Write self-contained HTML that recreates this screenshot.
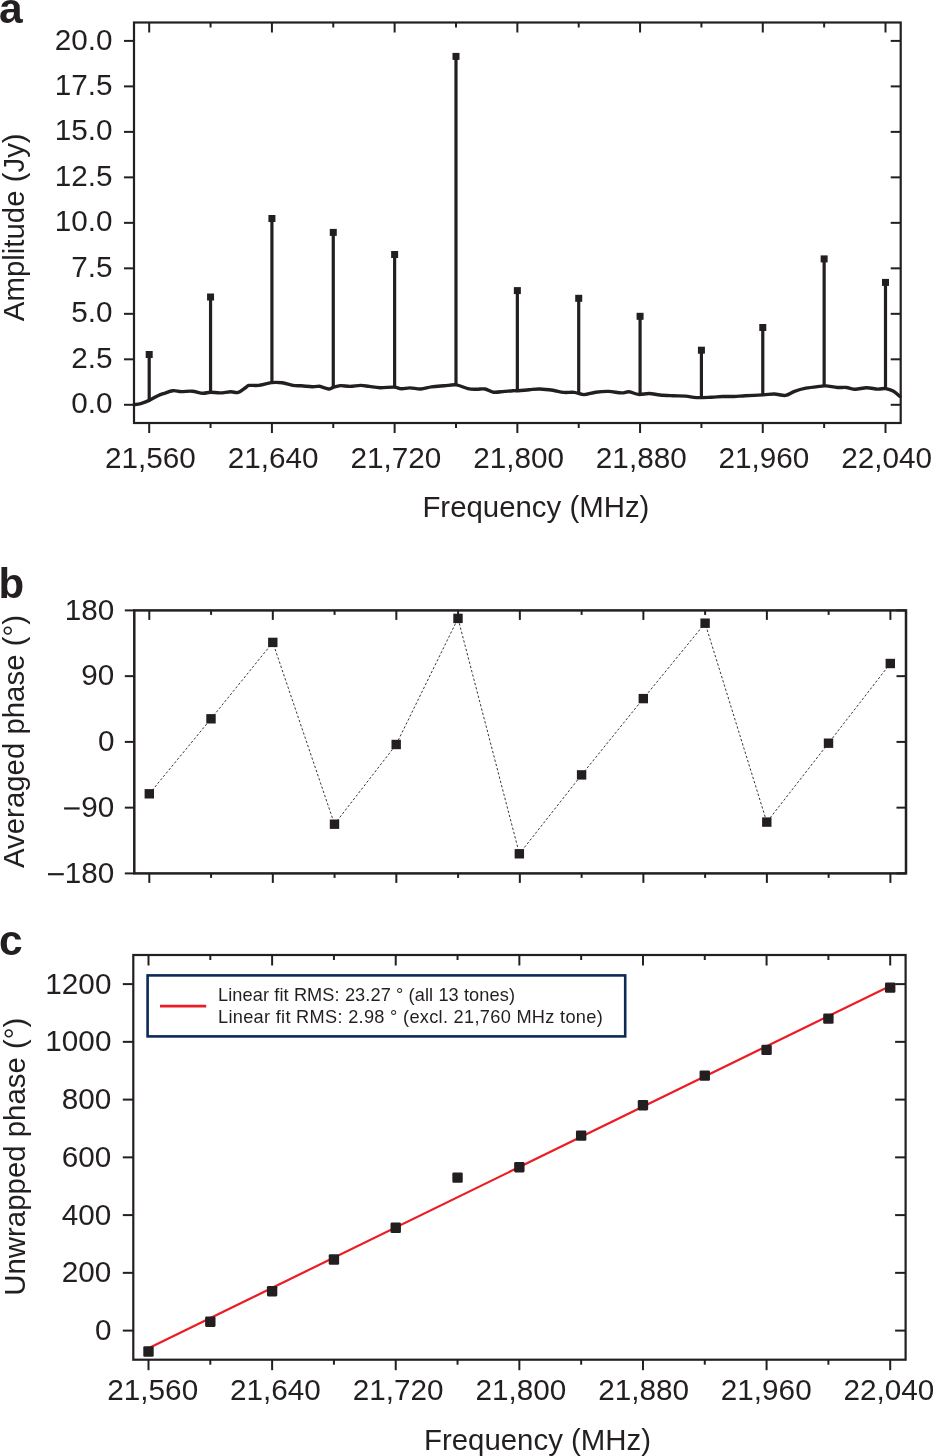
<!DOCTYPE html>
<html><head><meta charset="utf-8"><style>
html,body{margin:0;padding:0;background:#fff;}
svg{display:block;will-change:transform;}
text{font-family:"Liberation Sans",sans-serif;fill:#231f20;}
</style></head><body>
<svg width="933" height="1456" viewBox="0 0 933 1456">
<rect width="933" height="1456" fill="#fff"/>
<rect x="134.00" y="22.50" width="766.70" height="400.50" fill="none" stroke="#231f20" stroke-width="2.2"/>
<line x1="149.20" y1="22.50" x2="149.20" y2="32.50" stroke="#231f20" stroke-width="2" />
<line x1="149.20" y1="423.00" x2="149.20" y2="433.00" stroke="#231f20" stroke-width="2" />
<line x1="210.56" y1="22.50" x2="210.56" y2="27.50" stroke="#231f20" stroke-width="2" />
<line x1="210.56" y1="423.00" x2="210.56" y2="428.00" stroke="#231f20" stroke-width="2" />
<line x1="271.92" y1="22.50" x2="271.92" y2="32.50" stroke="#231f20" stroke-width="2" />
<line x1="271.92" y1="423.00" x2="271.92" y2="433.00" stroke="#231f20" stroke-width="2" />
<line x1="333.27" y1="22.50" x2="333.27" y2="27.50" stroke="#231f20" stroke-width="2" />
<line x1="333.27" y1="423.00" x2="333.27" y2="428.00" stroke="#231f20" stroke-width="2" />
<line x1="394.63" y1="22.50" x2="394.63" y2="32.50" stroke="#231f20" stroke-width="2" />
<line x1="394.63" y1="423.00" x2="394.63" y2="433.00" stroke="#231f20" stroke-width="2" />
<line x1="455.99" y1="22.50" x2="455.99" y2="27.50" stroke="#231f20" stroke-width="2" />
<line x1="455.99" y1="423.00" x2="455.99" y2="428.00" stroke="#231f20" stroke-width="2" />
<line x1="517.35" y1="22.50" x2="517.35" y2="32.50" stroke="#231f20" stroke-width="2" />
<line x1="517.35" y1="423.00" x2="517.35" y2="433.00" stroke="#231f20" stroke-width="2" />
<line x1="578.71" y1="22.50" x2="578.71" y2="27.50" stroke="#231f20" stroke-width="2" />
<line x1="578.71" y1="423.00" x2="578.71" y2="428.00" stroke="#231f20" stroke-width="2" />
<line x1="640.07" y1="22.50" x2="640.07" y2="32.50" stroke="#231f20" stroke-width="2" />
<line x1="640.07" y1="423.00" x2="640.07" y2="433.00" stroke="#231f20" stroke-width="2" />
<line x1="701.42" y1="22.50" x2="701.42" y2="27.50" stroke="#231f20" stroke-width="2" />
<line x1="701.42" y1="423.00" x2="701.42" y2="428.00" stroke="#231f20" stroke-width="2" />
<line x1="762.78" y1="22.50" x2="762.78" y2="32.50" stroke="#231f20" stroke-width="2" />
<line x1="762.78" y1="423.00" x2="762.78" y2="433.00" stroke="#231f20" stroke-width="2" />
<line x1="824.14" y1="22.50" x2="824.14" y2="27.50" stroke="#231f20" stroke-width="2" />
<line x1="824.14" y1="423.00" x2="824.14" y2="428.00" stroke="#231f20" stroke-width="2" />
<line x1="885.50" y1="22.50" x2="885.50" y2="32.50" stroke="#231f20" stroke-width="2" />
<line x1="885.50" y1="423.00" x2="885.50" y2="433.00" stroke="#231f20" stroke-width="2" />
<line x1="124.00" y1="404.80" x2="134.00" y2="404.80" stroke="#231f20" stroke-width="2" />
<line x1="890.70" y1="404.80" x2="900.70" y2="404.80" stroke="#231f20" stroke-width="2" />
<line x1="124.00" y1="359.31" x2="134.00" y2="359.31" stroke="#231f20" stroke-width="2" />
<line x1="890.70" y1="359.31" x2="900.70" y2="359.31" stroke="#231f20" stroke-width="2" />
<line x1="124.00" y1="313.83" x2="134.00" y2="313.83" stroke="#231f20" stroke-width="2" />
<line x1="890.70" y1="313.83" x2="900.70" y2="313.83" stroke="#231f20" stroke-width="2" />
<line x1="124.00" y1="268.34" x2="134.00" y2="268.34" stroke="#231f20" stroke-width="2" />
<line x1="890.70" y1="268.34" x2="900.70" y2="268.34" stroke="#231f20" stroke-width="2" />
<line x1="124.00" y1="222.85" x2="134.00" y2="222.85" stroke="#231f20" stroke-width="2" />
<line x1="890.70" y1="222.85" x2="900.70" y2="222.85" stroke="#231f20" stroke-width="2" />
<line x1="124.00" y1="177.36" x2="134.00" y2="177.36" stroke="#231f20" stroke-width="2" />
<line x1="890.70" y1="177.36" x2="900.70" y2="177.36" stroke="#231f20" stroke-width="2" />
<line x1="124.00" y1="131.88" x2="134.00" y2="131.88" stroke="#231f20" stroke-width="2" />
<line x1="890.70" y1="131.88" x2="900.70" y2="131.88" stroke="#231f20" stroke-width="2" />
<line x1="124.00" y1="86.39" x2="134.00" y2="86.39" stroke="#231f20" stroke-width="2" />
<line x1="890.70" y1="86.39" x2="900.70" y2="86.39" stroke="#231f20" stroke-width="2" />
<line x1="124.00" y1="40.90" x2="134.00" y2="40.90" stroke="#231f20" stroke-width="2" />
<line x1="890.70" y1="40.90" x2="900.70" y2="40.90" stroke="#231f20" stroke-width="2" />
<text x="112.50" y="413.40" font-size="29.7" text-anchor="end" font-weight="normal" >0.0</text>
<text x="112.50" y="367.91" font-size="29.7" text-anchor="end" font-weight="normal" >2.5</text>
<text x="112.50" y="322.43" font-size="29.7" text-anchor="end" font-weight="normal" >5.0</text>
<text x="112.50" y="276.94" font-size="29.7" text-anchor="end" font-weight="normal" >7.5</text>
<text x="112.50" y="231.45" font-size="29.7" text-anchor="end" font-weight="normal" >10.0</text>
<text x="112.50" y="185.96" font-size="29.7" text-anchor="end" font-weight="normal" >12.5</text>
<text x="112.50" y="140.47" font-size="29.7" text-anchor="end" font-weight="normal" >15.0</text>
<text x="112.50" y="94.99" font-size="29.7" text-anchor="end" font-weight="normal" >17.5</text>
<text x="112.50" y="49.50" font-size="29.7" text-anchor="end" font-weight="normal" >20.0</text>
<text x="150.40" y="468.20" font-size="29.7" text-anchor="middle" font-weight="normal" >21,560</text>
<text x="273.12" y="468.20" font-size="29.7" text-anchor="middle" font-weight="normal" >21,640</text>
<text x="395.83" y="468.20" font-size="29.7" text-anchor="middle" font-weight="normal" >21,720</text>
<text x="518.55" y="468.20" font-size="29.7" text-anchor="middle" font-weight="normal" >21,800</text>
<text x="641.27" y="468.20" font-size="29.7" text-anchor="middle" font-weight="normal" >21,880</text>
<text x="763.98" y="468.20" font-size="29.7" text-anchor="middle" font-weight="normal" >21,960</text>
<text x="886.70" y="468.20" font-size="29.7" text-anchor="middle" font-weight="normal" >22,040</text>
<text x="535.90" y="517.00" font-size="29.4" text-anchor="middle" font-weight="normal" >Frequency (MHz)</text>
<text x="0.00" y="0.00" font-size="29.4" text-anchor="middle" font-weight="normal" transform="translate(24,227.3) rotate(-90)">Amplitude (Jy)</text>
<text x="-0.90" y="22.60" font-size="42.5" text-anchor="start" font-weight="bold" >a</text>
<path d="M134.00,404.70 C135.12,404.52 138.15,404.32 140.70,403.60 C143.25,402.88 146.43,401.72 149.30,400.40 C152.17,399.08 155.40,396.88 157.90,395.70 C160.40,394.52 161.80,394.13 164.30,393.30 C166.80,392.47 170.05,390.98 172.90,390.70 C175.75,390.42 178.18,391.52 181.40,391.60 C184.62,391.68 188.62,390.92 192.20,391.20 C195.78,391.48 199.87,393.13 202.90,393.30 C205.93,393.47 207.55,392.27 210.40,392.20 C213.25,392.13 216.62,392.97 220.00,392.90 C223.38,392.83 227.65,391.88 230.70,391.80 C233.75,391.72 235.78,393.12 238.30,392.40 C240.82,391.68 244.02,388.67 245.80,387.50 C247.58,386.33 246.87,385.75 249.00,385.40 C251.13,385.05 254.85,385.87 258.60,385.40 C262.35,384.93 267.57,383.03 271.50,382.60 C275.43,382.17 278.63,382.33 282.20,382.80 C285.77,383.27 289.68,384.90 292.90,385.40 C296.12,385.90 298.28,385.58 301.50,385.80 C304.72,386.02 309.35,386.63 312.20,386.70 C315.05,386.77 317.30,386.25 318.60,386.20 C319.90,386.15 318.33,385.93 320.00,386.40 C321.67,386.87 326.45,388.82 328.60,389.00 C330.75,389.18 330.93,388.07 332.90,387.50 C334.87,386.93 337.55,385.78 340.40,385.60 C343.25,385.42 346.62,386.43 350.00,386.40 C353.38,386.37 357.48,385.40 360.70,385.40 C363.92,385.40 366.08,386.02 369.30,386.40 C372.52,386.78 375.88,387.58 380.00,387.70 C384.12,387.82 390.42,386.92 394.00,387.10 C397.58,387.28 398.83,388.67 401.50,388.80 C404.17,388.93 406.80,387.87 410.00,387.90 C413.20,387.93 417.12,389.17 420.70,389.00 C424.28,388.83 427.57,387.43 431.50,386.90 C435.43,386.37 440.20,386.13 444.30,385.80 C448.40,385.47 452.17,384.43 456.10,384.90 C460.03,385.37 464.50,387.88 467.90,388.60 C471.30,389.32 473.65,389.13 476.50,389.20 C479.35,389.27 482.15,388.50 485.00,389.00 C487.85,389.50 490.38,391.80 493.60,392.20 C496.82,392.60 501.08,391.65 504.30,391.40 C507.52,391.15 510.52,390.82 512.90,390.70 C515.28,390.58 515.87,390.87 518.60,390.70 C521.33,390.53 525.73,389.98 529.30,389.70 C532.87,389.42 536.07,388.90 540.00,389.00 C543.93,389.10 548.97,389.73 552.90,390.30 C556.83,390.87 560.03,392.05 563.60,392.40 C567.17,392.75 570.90,392.03 574.30,392.40 C577.70,392.77 580.43,394.63 584.00,394.60 C587.57,394.57 591.60,392.73 595.70,392.20 C599.80,391.67 604.30,391.28 608.60,391.40 C612.90,391.52 618.10,392.83 621.50,392.90 C624.90,392.97 626.15,391.55 629.00,391.80 C631.85,392.05 635.22,394.12 638.60,394.40 C641.98,394.68 645.73,393.40 649.30,393.50 C652.87,393.60 656.07,394.63 660.00,395.00 C663.93,395.37 668.60,395.52 672.90,395.70 C677.20,395.88 681.87,395.78 685.80,396.10 C689.73,396.42 692.25,397.42 696.50,397.60 C700.75,397.78 706.97,397.38 711.30,397.20 C715.63,397.02 718.75,396.62 722.50,396.50 C726.25,396.38 730.05,396.62 733.80,396.50 C737.55,396.38 740.13,396.07 745.00,395.80 C749.87,395.53 758.12,395.20 763.00,394.90 C767.88,394.60 770.55,393.92 774.30,394.00 C778.05,394.08 782.13,395.85 785.50,395.40 C788.87,394.95 791.12,392.50 794.50,391.30 C797.88,390.10 801.67,389.02 805.80,388.20 C809.93,387.38 815.93,386.78 819.30,386.40 C822.67,386.02 823.00,385.72 826.00,385.90 C829.00,386.08 833.92,387.23 837.30,387.50 C840.68,387.77 843.30,387.20 846.30,387.50 C849.30,387.80 851.92,389.27 855.30,389.30 C858.68,389.33 862.85,387.73 866.60,387.70 C870.35,387.67 874.62,388.95 877.80,389.10 C880.98,389.25 883.07,388.23 885.70,388.60 C888.33,388.97 891.22,389.98 893.60,391.30 C895.98,392.62 898.93,395.63 900.00,396.50" fill="none" stroke="#231f20" stroke-width="3.4" stroke-linejoin="round" stroke-linecap="round"/>
<line x1="149.20" y1="354.50" x2="149.20" y2="400.44" stroke="#231f20" stroke-width="3.2" />
<rect x="145.70" y="351.00" width="7" height="7" fill="#231f20"/>
<line x1="210.56" y1="297.00" x2="210.56" y2="392.21" stroke="#231f20" stroke-width="3.2" />
<rect x="207.06" y="293.50" width="7" height="7" fill="#231f20"/>
<line x1="271.92" y1="218.50" x2="271.92" y2="382.61" stroke="#231f20" stroke-width="3.2" />
<rect x="268.42" y="215.00" width="7" height="7" fill="#231f20"/>
<line x1="333.27" y1="232.40" x2="333.27" y2="387.40" stroke="#231f20" stroke-width="3.2" />
<rect x="329.77" y="228.90" width="7" height="7" fill="#231f20"/>
<line x1="394.63" y1="254.50" x2="394.63" y2="387.24" stroke="#231f20" stroke-width="3.2" />
<rect x="391.13" y="251.00" width="7" height="7" fill="#231f20"/>
<line x1="455.99" y1="56.40" x2="455.99" y2="384.91" stroke="#231f20" stroke-width="3.2" />
<rect x="452.49" y="52.90" width="7" height="7" fill="#231f20"/>
<line x1="517.35" y1="290.60" x2="517.35" y2="390.70" stroke="#231f20" stroke-width="3.2" />
<rect x="513.85" y="287.10" width="7" height="7" fill="#231f20"/>
<line x1="578.71" y1="298.30" x2="578.71" y2="393.40" stroke="#231f20" stroke-width="3.2" />
<rect x="575.21" y="294.80" width="7" height="7" fill="#231f20"/>
<line x1="640.07" y1="316.30" x2="640.07" y2="394.28" stroke="#231f20" stroke-width="3.2" />
<rect x="636.57" y="312.80" width="7" height="7" fill="#231f20"/>
<line x1="701.42" y1="350.20" x2="701.42" y2="397.47" stroke="#231f20" stroke-width="3.2" />
<rect x="697.92" y="346.70" width="7" height="7" fill="#231f20"/>
<line x1="762.78" y1="327.50" x2="762.78" y2="394.91" stroke="#231f20" stroke-width="3.2" />
<rect x="759.28" y="324.00" width="7" height="7" fill="#231f20"/>
<line x1="824.14" y1="258.90" x2="824.14" y2="386.04" stroke="#231f20" stroke-width="3.2" />
<rect x="820.64" y="255.40" width="7" height="7" fill="#231f20"/>
<line x1="885.50" y1="282.40" x2="885.50" y2="388.61" stroke="#231f20" stroke-width="3.2" />
<rect x="882.00" y="278.90" width="7" height="7" fill="#231f20"/>
<rect x="134.30" y="610.40" width="771.70" height="263.00" fill="none" stroke="#231f20" stroke-width="2.5"/>
<line x1="149.30" y1="610.40" x2="149.30" y2="619.90" stroke="#231f20" stroke-width="2" />
<line x1="149.30" y1="873.40" x2="149.30" y2="882.90" stroke="#231f20" stroke-width="2" />
<line x1="211.06" y1="610.40" x2="211.06" y2="614.90" stroke="#231f20" stroke-width="2" />
<line x1="211.06" y1="873.40" x2="211.06" y2="877.90" stroke="#231f20" stroke-width="2" />
<line x1="272.82" y1="610.40" x2="272.82" y2="619.90" stroke="#231f20" stroke-width="2" />
<line x1="272.82" y1="873.40" x2="272.82" y2="882.90" stroke="#231f20" stroke-width="2" />
<line x1="334.57" y1="610.40" x2="334.57" y2="614.90" stroke="#231f20" stroke-width="2" />
<line x1="334.57" y1="873.40" x2="334.57" y2="877.90" stroke="#231f20" stroke-width="2" />
<line x1="396.33" y1="610.40" x2="396.33" y2="619.90" stroke="#231f20" stroke-width="2" />
<line x1="396.33" y1="873.40" x2="396.33" y2="882.90" stroke="#231f20" stroke-width="2" />
<line x1="458.09" y1="610.40" x2="458.09" y2="614.90" stroke="#231f20" stroke-width="2" />
<line x1="458.09" y1="873.40" x2="458.09" y2="877.90" stroke="#231f20" stroke-width="2" />
<line x1="519.85" y1="610.40" x2="519.85" y2="619.90" stroke="#231f20" stroke-width="2" />
<line x1="519.85" y1="873.40" x2="519.85" y2="882.90" stroke="#231f20" stroke-width="2" />
<line x1="581.61" y1="610.40" x2="581.61" y2="614.90" stroke="#231f20" stroke-width="2" />
<line x1="581.61" y1="873.40" x2="581.61" y2="877.90" stroke="#231f20" stroke-width="2" />
<line x1="643.37" y1="610.40" x2="643.37" y2="619.90" stroke="#231f20" stroke-width="2" />
<line x1="643.37" y1="873.40" x2="643.37" y2="882.90" stroke="#231f20" stroke-width="2" />
<line x1="705.12" y1="610.40" x2="705.12" y2="614.90" stroke="#231f20" stroke-width="2" />
<line x1="705.12" y1="873.40" x2="705.12" y2="877.90" stroke="#231f20" stroke-width="2" />
<line x1="766.88" y1="610.40" x2="766.88" y2="619.90" stroke="#231f20" stroke-width="2" />
<line x1="766.88" y1="873.40" x2="766.88" y2="882.90" stroke="#231f20" stroke-width="2" />
<line x1="828.64" y1="610.40" x2="828.64" y2="614.90" stroke="#231f20" stroke-width="2" />
<line x1="828.64" y1="873.40" x2="828.64" y2="877.90" stroke="#231f20" stroke-width="2" />
<line x1="890.40" y1="610.40" x2="890.40" y2="619.90" stroke="#231f20" stroke-width="2" />
<line x1="890.40" y1="873.40" x2="890.40" y2="882.90" stroke="#231f20" stroke-width="2" />
<line x1="124.80" y1="610.40" x2="134.30" y2="610.40" stroke="#231f20" stroke-width="2" />
<line x1="896.50" y1="610.40" x2="906.00" y2="610.40" stroke="#231f20" stroke-width="2" />
<line x1="124.80" y1="676.15" x2="134.30" y2="676.15" stroke="#231f20" stroke-width="2" />
<line x1="896.50" y1="676.15" x2="906.00" y2="676.15" stroke="#231f20" stroke-width="2" />
<line x1="124.80" y1="741.90" x2="134.30" y2="741.90" stroke="#231f20" stroke-width="2" />
<line x1="896.50" y1="741.90" x2="906.00" y2="741.90" stroke="#231f20" stroke-width="2" />
<line x1="124.80" y1="807.65" x2="134.30" y2="807.65" stroke="#231f20" stroke-width="2" />
<line x1="896.50" y1="807.65" x2="906.00" y2="807.65" stroke="#231f20" stroke-width="2" />
<line x1="124.80" y1="873.40" x2="134.30" y2="873.40" stroke="#231f20" stroke-width="2" />
<line x1="896.50" y1="873.40" x2="906.00" y2="873.40" stroke="#231f20" stroke-width="2" />
<text x="114.40" y="619.70" font-size="29.7" text-anchor="end" font-weight="normal" >180</text>
<text x="114.40" y="685.45" font-size="29.7" text-anchor="end" font-weight="normal" >90</text>
<text x="114.40" y="751.20" font-size="29.7" text-anchor="end" font-weight="normal" >0</text>
<text x="114.40" y="816.95" font-size="29.7" text-anchor="end" font-weight="normal" >90</text>
<line x1="64.10" y1="808.45" x2="79.60" y2="808.45" stroke="#231f20" stroke-width="2.2" />
<text x="114.40" y="882.70" font-size="29.7" text-anchor="end" font-weight="normal" >180</text>
<line x1="48.00" y1="874.20" x2="63.80" y2="874.20" stroke="#231f20" stroke-width="2.2" />
<text x="0.00" y="0.00" font-size="29.4" text-anchor="middle" font-weight="normal" transform="translate(24,741.5) rotate(-90)">Averaged phase (°)</text>
<text x="-1.60" y="597.70" font-size="42" text-anchor="start" font-weight="bold" >b</text>
<path d="M149.3,793.8 L211.0,718.8 L272.8,642.4 L334.5,824.2 L396.2,744.5 L458.0,618.4 L519.4,853.8 L581.6,774.9 L643.3,698.6 L705.1,623.2 L766.8,822.1 L828.5,743.2 L890.3,663.5" fill="none" stroke="#231f20" stroke-width="0.9" stroke-dasharray="2.4 2.0"/>
<rect x="144.60" y="789.10" width="9.4" height="9.4" fill="#231f20"/>
<rect x="206.30" y="714.10" width="9.4" height="9.4" fill="#231f20"/>
<rect x="268.10" y="637.70" width="9.4" height="9.4" fill="#231f20"/>
<rect x="329.80" y="819.50" width="9.4" height="9.4" fill="#231f20"/>
<rect x="391.50" y="739.80" width="9.4" height="9.4" fill="#231f20"/>
<rect x="453.30" y="613.70" width="9.4" height="9.4" fill="#231f20"/>
<rect x="514.65" y="849.10" width="9.4" height="9.4" fill="#231f20"/>
<rect x="576.90" y="770.20" width="9.4" height="9.4" fill="#231f20"/>
<rect x="638.60" y="693.90" width="9.4" height="9.4" fill="#231f20"/>
<rect x="700.40" y="618.50" width="9.4" height="9.4" fill="#231f20"/>
<rect x="762.10" y="817.40" width="9.4" height="9.4" fill="#231f20"/>
<rect x="823.80" y="738.50" width="9.4" height="9.4" fill="#231f20"/>
<rect x="885.60" y="658.80" width="9.4" height="9.4" fill="#231f20"/>
<rect x="133.30" y="955.00" width="772.30" height="404.70" fill="none" stroke="#231f20" stroke-width="2.2"/>
<line x1="148.50" y1="955.00" x2="148.50" y2="965.50" stroke="#231f20" stroke-width="2" />
<line x1="148.50" y1="1359.70" x2="148.50" y2="1370.20" stroke="#231f20" stroke-width="2" />
<line x1="210.31" y1="955.00" x2="210.31" y2="960.00" stroke="#231f20" stroke-width="2" />
<line x1="210.31" y1="1359.70" x2="210.31" y2="1364.70" stroke="#231f20" stroke-width="2" />
<line x1="272.12" y1="955.00" x2="272.12" y2="965.50" stroke="#231f20" stroke-width="2" />
<line x1="272.12" y1="1359.70" x2="272.12" y2="1370.20" stroke="#231f20" stroke-width="2" />
<line x1="333.93" y1="955.00" x2="333.93" y2="960.00" stroke="#231f20" stroke-width="2" />
<line x1="333.93" y1="1359.70" x2="333.93" y2="1364.70" stroke="#231f20" stroke-width="2" />
<line x1="395.73" y1="955.00" x2="395.73" y2="965.50" stroke="#231f20" stroke-width="2" />
<line x1="395.73" y1="1359.70" x2="395.73" y2="1370.20" stroke="#231f20" stroke-width="2" />
<line x1="457.54" y1="955.00" x2="457.54" y2="960.00" stroke="#231f20" stroke-width="2" />
<line x1="457.54" y1="1359.70" x2="457.54" y2="1364.70" stroke="#231f20" stroke-width="2" />
<line x1="519.35" y1="955.00" x2="519.35" y2="965.50" stroke="#231f20" stroke-width="2" />
<line x1="519.35" y1="1359.70" x2="519.35" y2="1370.20" stroke="#231f20" stroke-width="2" />
<line x1="581.16" y1="955.00" x2="581.16" y2="960.00" stroke="#231f20" stroke-width="2" />
<line x1="581.16" y1="1359.70" x2="581.16" y2="1364.70" stroke="#231f20" stroke-width="2" />
<line x1="642.97" y1="955.00" x2="642.97" y2="965.50" stroke="#231f20" stroke-width="2" />
<line x1="642.97" y1="1359.70" x2="642.97" y2="1370.20" stroke="#231f20" stroke-width="2" />
<line x1="704.77" y1="955.00" x2="704.77" y2="960.00" stroke="#231f20" stroke-width="2" />
<line x1="704.77" y1="1359.70" x2="704.77" y2="1364.70" stroke="#231f20" stroke-width="2" />
<line x1="766.58" y1="955.00" x2="766.58" y2="965.50" stroke="#231f20" stroke-width="2" />
<line x1="766.58" y1="1359.70" x2="766.58" y2="1370.20" stroke="#231f20" stroke-width="2" />
<line x1="828.39" y1="955.00" x2="828.39" y2="960.00" stroke="#231f20" stroke-width="2" />
<line x1="828.39" y1="1359.70" x2="828.39" y2="1364.70" stroke="#231f20" stroke-width="2" />
<line x1="890.20" y1="955.00" x2="890.20" y2="965.50" stroke="#231f20" stroke-width="2" />
<line x1="890.20" y1="1359.70" x2="890.20" y2="1370.20" stroke="#231f20" stroke-width="2" />
<line x1="122.80" y1="1330.60" x2="133.30" y2="1330.60" stroke="#231f20" stroke-width="2" />
<line x1="895.10" y1="1330.60" x2="905.60" y2="1330.60" stroke="#231f20" stroke-width="2" />
<line x1="122.80" y1="1272.85" x2="133.30" y2="1272.85" stroke="#231f20" stroke-width="2" />
<line x1="895.10" y1="1272.85" x2="905.60" y2="1272.85" stroke="#231f20" stroke-width="2" />
<line x1="122.80" y1="1215.10" x2="133.30" y2="1215.10" stroke="#231f20" stroke-width="2" />
<line x1="895.10" y1="1215.10" x2="905.60" y2="1215.10" stroke="#231f20" stroke-width="2" />
<line x1="122.80" y1="1157.35" x2="133.30" y2="1157.35" stroke="#231f20" stroke-width="2" />
<line x1="895.10" y1="1157.35" x2="905.60" y2="1157.35" stroke="#231f20" stroke-width="2" />
<line x1="122.80" y1="1099.60" x2="133.30" y2="1099.60" stroke="#231f20" stroke-width="2" />
<line x1="895.10" y1="1099.60" x2="905.60" y2="1099.60" stroke="#231f20" stroke-width="2" />
<line x1="122.80" y1="1041.85" x2="133.30" y2="1041.85" stroke="#231f20" stroke-width="2" />
<line x1="895.10" y1="1041.85" x2="905.60" y2="1041.85" stroke="#231f20" stroke-width="2" />
<line x1="122.80" y1="984.10" x2="133.30" y2="984.10" stroke="#231f20" stroke-width="2" />
<line x1="895.10" y1="984.10" x2="905.60" y2="984.10" stroke="#231f20" stroke-width="2" />
<text x="111.40" y="1340.20" font-size="29.7" text-anchor="end" font-weight="normal" >0</text>
<text x="111.40" y="1282.45" font-size="29.7" text-anchor="end" font-weight="normal" >200</text>
<text x="111.40" y="1224.70" font-size="29.7" text-anchor="end" font-weight="normal" >400</text>
<text x="111.40" y="1166.95" font-size="29.7" text-anchor="end" font-weight="normal" >600</text>
<text x="111.40" y="1109.20" font-size="29.7" text-anchor="end" font-weight="normal" >800</text>
<text x="111.40" y="1051.45" font-size="29.7" text-anchor="end" font-weight="normal" >1000</text>
<text x="111.40" y="993.70" font-size="29.7" text-anchor="end" font-weight="normal" >1200</text>
<text x="152.75" y="1399.90" font-size="29.7" text-anchor="middle" font-weight="normal" >21,560</text>
<text x="275.45" y="1399.90" font-size="29.7" text-anchor="middle" font-weight="normal" >21,640</text>
<text x="398.15" y="1399.90" font-size="29.7" text-anchor="middle" font-weight="normal" >21,720</text>
<text x="520.85" y="1399.90" font-size="29.7" text-anchor="middle" font-weight="normal" >21,800</text>
<text x="643.55" y="1399.90" font-size="29.7" text-anchor="middle" font-weight="normal" >21,880</text>
<text x="766.25" y="1399.90" font-size="29.7" text-anchor="middle" font-weight="normal" >21,960</text>
<text x="888.95" y="1399.90" font-size="29.7" text-anchor="middle" font-weight="normal" >22,040</text>
<text x="537.50" y="1449.60" font-size="29.4" text-anchor="middle" font-weight="normal" >Frequency (MHz)</text>
<text x="0.00" y="0.00" font-size="29.4" text-anchor="middle" font-weight="normal" transform="translate(24.5,1156.7) rotate(-90)">Unwrapped phase (°)</text>
<text x="-1.10" y="955.30" font-size="42.5" text-anchor="start" font-weight="bold" >c</text>
<line x1="148.50" y1="1348.20" x2="890.20" y2="985.90" stroke="#ec1c24" stroke-width="2.2" />
<rect x="143.30" y="1346.30" width="10.4" height="10.4" rx="1.3" fill="#231f20"/>
<rect x="205.11" y="1316.50" width="10.4" height="10.4" rx="1.3" fill="#231f20"/>
<rect x="266.92" y="1286.00" width="10.4" height="10.4" rx="1.3" fill="#231f20"/>
<rect x="328.73" y="1254.30" width="10.4" height="10.4" rx="1.3" fill="#231f20"/>
<rect x="390.53" y="1222.60" width="10.4" height="10.4" rx="1.3" fill="#231f20"/>
<rect x="452.34" y="1172.40" width="10.4" height="10.4" rx="1.3" fill="#231f20"/>
<rect x="514.15" y="1162.00" width="10.4" height="10.4" rx="1.3" fill="#231f20"/>
<rect x="575.96" y="1130.40" width="10.4" height="10.4" rx="1.3" fill="#231f20"/>
<rect x="637.77" y="1100.00" width="10.4" height="10.4" rx="1.3" fill="#231f20"/>
<rect x="699.57" y="1070.40" width="10.4" height="10.4" rx="1.3" fill="#231f20"/>
<rect x="761.38" y="1044.70" width="10.4" height="10.4" rx="1.3" fill="#231f20"/>
<rect x="823.19" y="1013.40" width="10.4" height="10.4" rx="1.3" fill="#231f20"/>
<rect x="885.00" y="982.40" width="10.4" height="10.4" rx="1.3" fill="#231f20"/>
<rect x="147.6" y="975.4" width="477.6" height="61" fill="#fff" stroke="#0b2a55" stroke-width="2.6"/>
<line x1="160.00" y1="1006.10" x2="206.20" y2="1006.10" stroke="#ec1c24" stroke-width="2.8" />
<text x="218.00" y="1000.60" font-size="18.2" text-anchor="start" font-weight="normal" textLength="297" lengthAdjust="spacing">Linear fit RMS: 23.27 ° (all 13 tones)</text>
<text x="218.00" y="1023.30" font-size="18.2" text-anchor="start" font-weight="normal" textLength="384.7" lengthAdjust="spacing">Linear fit RMS: 2.98 ° (excl. 21,760 MHz tone)</text>
</svg>
</body></html>
